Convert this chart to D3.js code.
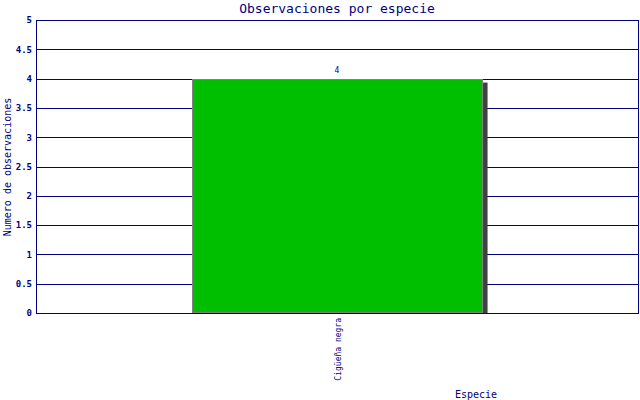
<!DOCTYPE html>
<html><head><meta charset="utf-8">
<script src="https://cdn.jsdelivr.net/npm/d3@7"></script>
<style>body{margin:0;background:#fff}svg{display:block}</style>
</head><body>
<svg id="c" width="640" height="400"></svg>
<script>
const categories = ["Cigüeña negra"];
const values = [4];
const yTicks = [0, 0.5, 1, 1.5, 2, 2.5, 3, 3.5, 4, 4.5, 5];
const title = "Observaciones por especie";
const yLabel = "Numero de observaciones";
const xLabel = "Especie";

const navy = "#000080";
const font = "'DejaVu Sans Mono', monospace";
const svg = d3.select("#c");
const m = {l:36, r:638, t:20, b:313};

const y = d3.scaleLinear().domain([0,5]).range([m.b, m.t]);
const x = d3.scaleBand().domain(categories).range([m.l, m.r]).paddingInner(0).paddingOuter(0.534);

// gridlines
svg.append("g").selectAll("line").data(yTicks.filter(d=>d>0)).join("line")
  .attr("x1", m.l).attr("x2", m.r)
  .attr("y1", d=>Math.round(y(d))+0.5).attr("y2", d=>Math.round(y(d))+0.5)
  .attr("stroke", navy).attr("stroke-width",1);

// bars shadow
svg.append("g").selectAll("rect").data(values).join("rect")
  .attr("x", (d,i)=>x(categories[i])+x.bandwidth())
  .attr("y", d=>y(d)+4)
  .attr("width", 5)
  .attr("height", d=>m.b - y(d) - 4)
  .attr("fill", "#404040");

// bars
svg.append("g").selectAll("rect").data(values).join("rect")
  .attr("x", (d,i)=>Math.round(x(categories[i]))+1.5)
  .attr("y", d=>Math.round(y(d))+0.5)
  .attr("width", x.bandwidth()-1)
  .attr("height", d=>m.b - Math.round(y(d)) - 1)
  .attr("fill", "#00BF00").attr("stroke", "#808080").attr("stroke-width",1);

// value labels
svg.append("g").selectAll("text").data(values).join("text")
  .attr("x", (d,i)=>x(categories[i])+x.bandwidth()/2)
  .attr("y", d=>y(d)-6)
  .attr("text-anchor","middle").attr("font-family",font).attr("font-size",8)
  .attr("fill", navy).text(d=>d);

// axes frame
svg.append("line").attr("x1",m.l+0.5).attr("x2",m.l+0.5).attr("y1",m.t).attr("y2",m.b+1).attr("stroke",navy);
svg.append("line").attr("x1",m.r+0.5).attr("x2",m.r+0.5).attr("y1",m.t).attr("y2",m.b+1).attr("stroke",navy);
svg.append("line").attr("x1",m.l).attr("x2",m.r+1).attr("y1",m.b+0.5).attr("y2",m.b+0.5).attr("stroke",navy);

// y axis
const yAxis = d3.axisLeft(y).tickValues(yTicks).tickSize(0).tickPadding(4).tickFormat(d=>String(d));
const ya = svg.append("g").attr("transform",`translate(${m.l},0)`).call(yAxis);
ya.select(".domain").remove();
ya.selectAll("text").attr("font-family",font).attr("font-size",9).attr("font-weight","bold").attr("fill",navy);

// x axis labels
const xAxis = d3.axisBottom(x).tickSize(0).tickPadding(0);
const xa = svg.append("g").attr("transform",`translate(0,${m.b})`).call(xAxis);
xa.select(".domain").remove();
xa.selectAll("text").attr("font-family",font).attr("font-size",8).attr("fill",navy)
  .attr("text-anchor","end").attr("dy",0)
  .attr("transform","translate(4,5) rotate(-90)");

// title
svg.append("text").attr("x",337).attr("y",13).attr("text-anchor","middle")
  .attr("font-family",font).attr("font-size",13).attr("fill",navy).text(title);
svg.append("text").attr("transform","translate(11,167) rotate(-90)").attr("text-anchor","middle")
  .attr("font-family",font).attr("font-size",10).attr("fill",navy).text(yLabel);
svg.append("text").attr("x",476).attr("y",398).attr("text-anchor","middle")
  .attr("font-family",font).attr("font-size",10).attr("fill",navy).text(xLabel);
</script>
</body></html>
